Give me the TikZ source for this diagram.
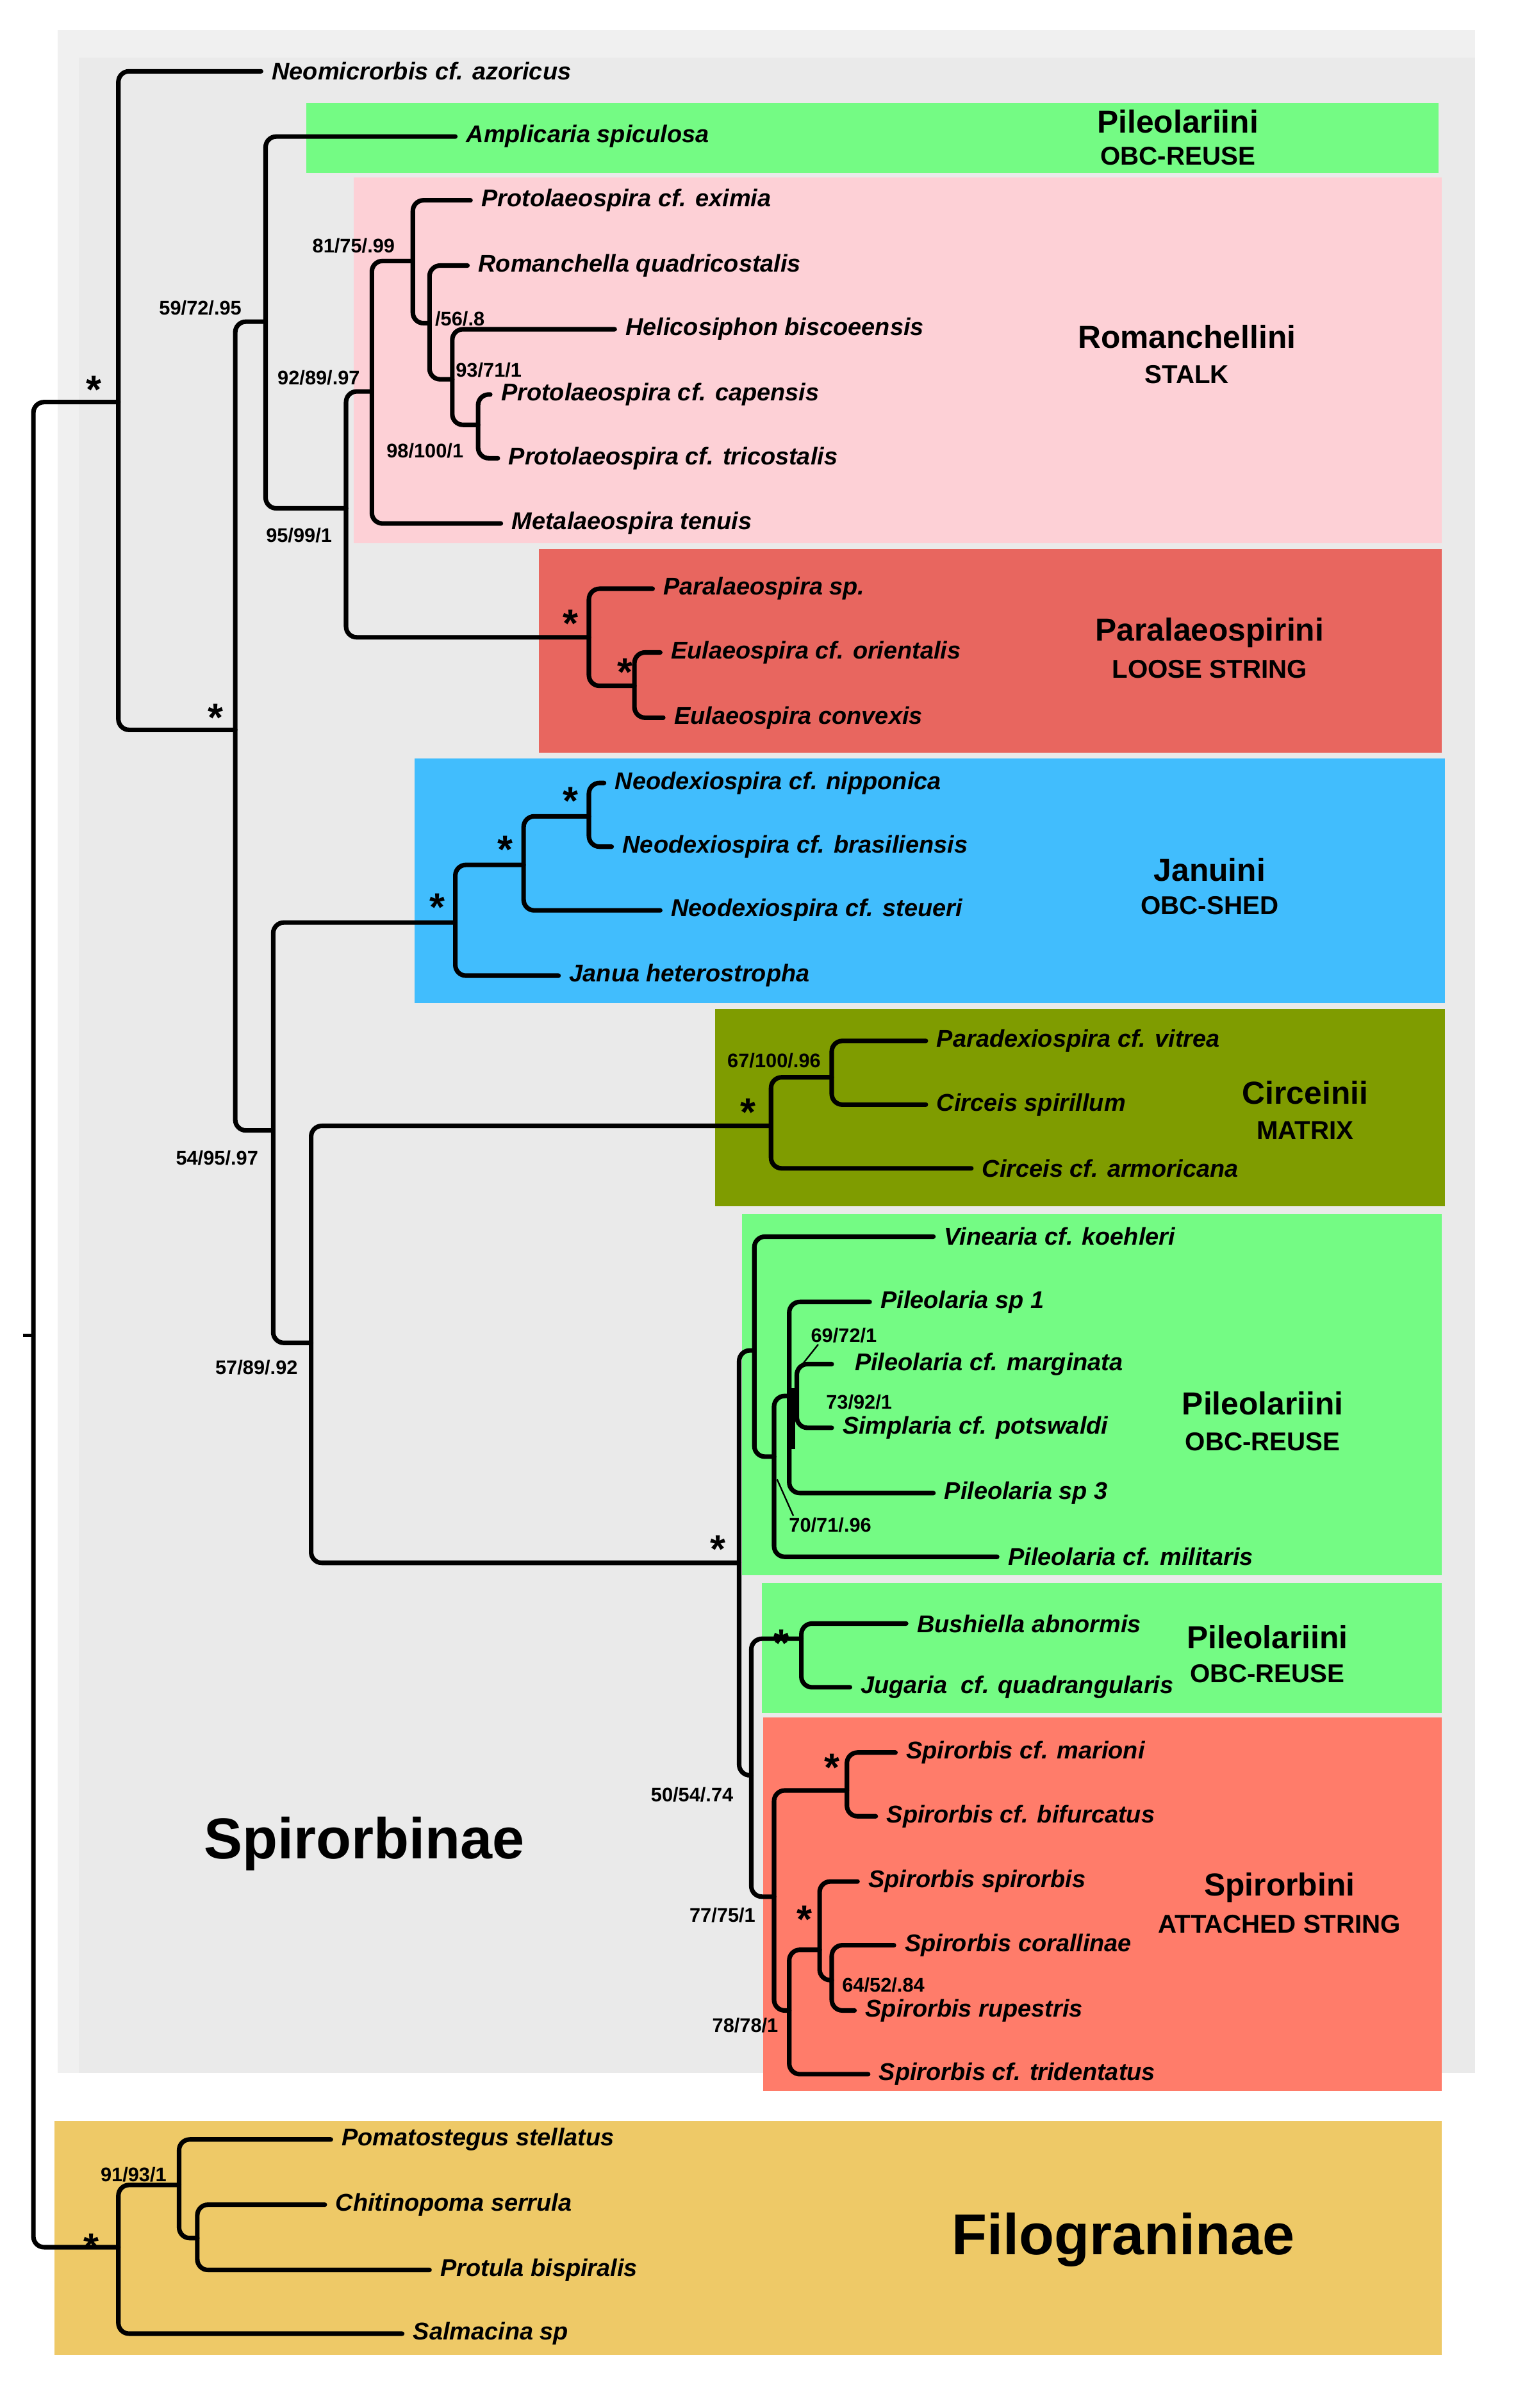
\documentclass[tikz,border=0pt]{standalone}
\usepackage{fontspec}
\setmainfont{Liberation Sans}
\begin{document}
\begin{tikzpicture}[x=1pt,y=-1pt,
 br/.style={line width=3pt,rounded corners=7pt,line cap=round},
 sp/.style={anchor=west,font=\fontsize{16}{16}\selectfont\bfseries\itshape,inner sep=1pt},
 sup/.style={font=\fontsize{13}{13}\selectfont\bfseries,inner sep=1pt},
 ast/.style={font=\fontsize{26}{26}\selectfont\bfseries,inner sep=0pt},
 ttl/.style={font=\fontsize{21}{21}\selectfont\bfseries,align=center,inner sep=0pt},
 sub/.style={font=\fontsize{17}{17}\selectfont\bfseries}]
\useasboundingbox (0,0) rectangle (1000,1587);
\fill[white] (0,0) rectangle (1000,1587);
\definecolor{gbg}{HTML}{EAEAEA}
\definecolor{grn}{HTML}{74FB84}
\definecolor{pnk}{HTML}{FDD0D6}
\definecolor{red1}{HTML}{E8665F}
\definecolor{blu}{HTML}{41BDFD}
\definecolor{olv}{HTML}{7F9C00}
\definecolor{sal}{HTML}{FF7C6A}
\definecolor{yel}{HTML}{EEC967}
\fill[gray!12] (38,20) rectangle (972,1366);
\fill[gbg] (52,38) rectangle (972,1366);
\fill[grn] (202,68) rectangle (948,114);
\fill[pnk] (233,117) rectangle (950,358);
\fill[red1] (355,362) rectangle (950,496);
\fill[blu] (273,500) rectangle (952,661);
\fill[olv] (471,665) rectangle (952,795);
\fill[grn] (489,800) rectangle (950,1038);
\fill[grn] (502,1043) rectangle (950,1129);
\fill[sal] (503,1132) rectangle (950,1378);
\fill[yel] (36,1398) rectangle (950,1552);
\newcommand\cl[5]{\draw[br] (#3,#2) -- (#1,#2) -- (#1,#4) -- (#5,#4);}
\newcommand\lf[3]{\node[sp] at (#1+6,#2) {#3};}
% root
\draw[br] (78,265) -- (22,265) -- (22,1481) -- (78,1481);
\draw[line width=2pt] (15,880) -- (22,880);
\cl{78}{47}{172}{481}{155}
\cl{155}{212}{175}{745}{180}
\cl{175}{90}{300}{335}{228}
\cl{228}{258}{245}{420}{388}
\cl{245}{172}{272}{345}{330}
\cl{272}{132}{310}{213}{283}
\cl{283}{175}{308}{250}{298}
\cl{298}{217}{405}{280}{315}
\cl{315}{260}{323}{302}{328}
\cl{388}{388}{430}{452}{418}
\cl{418}{430}{435}{473}{437}
\cl{180}{608}{300}{885}{205}
\cl{300}{570}{345}{643}{368}
\cl{345}{538}{388}{600}{435}
\cl{388}{516}{398}{558}{403}
\cl{205}{742}{508}{1030}{487}
\cl{508}{710}{548}{770}{640}
\cl{548}{686}{610}{728}{610}
\cl{487}{890}{497}{1170}{495}
\cl{497}{815}{615}{960}{510}
\cl{510}{920}{520}{1026}{657}
\cl{520}{858}{573}{984}{615}
\draw[line width=4pt] (522,915) -- (522,955);
\draw[br] (548,899) -- (525,899) -- (525,941) -- (548,941);
\cl{495}{1080}{528}{1250}{510}
\cl{528}{1070}{597}{1112}{560}
\cl{510}{1180}{558}{1325}{520}
\cl{558}{1155}{590}{1197}{577}
\cl{520}{1285}{540}{1367}{572}
\cl{540}{1240}{565}{1305}{548}
\cl{548}{1282}{589}{1325}{563}
\cl{78}{1440}{118}{1538}{265}
\cl{118}{1410}{218}{1475}{130}
\cl{130}{1453}{214}{1496}{283}
% leaves
\lf{172}{47}{Neomicrorbis cf. azoricus}
\lf{300}{90}{Amplicaria spiculosa}
\lf{310}{132}{Protolaeospira cf. eximia}
\lf{308}{175}{Romanchella quadricostalis}
\lf{405}{217}{Helicosiphon biscoeensis}
\lf{323}{260}{Protolaeospira cf. capensis}
\lf{328}{302}{Protolaeospira cf. tricostalis}
\lf{330}{345}{Metalaeospira tenuis}
\lf{430}{388}{Paralaeospira sp.}
\lf{435}{430}{Eulaeospira cf. orientalis}
\lf{437}{473}{Eulaeospira convexis}
\lf{398}{516}{Neodexiospira cf. nipponica}
\lf{403}{558}{Neodexiospira cf. brasiliensis}
\lf{435}{600}{Neodexiospira cf. steueri}
\lf{368}{643}{Janua heterostropha}
\lf{610}{686}{Paradexiospira cf. vitrea}
\lf{610}{728}{Circeis spirillum}
\lf{640}{770}{Circeis cf. armoricana}
\lf{615}{815}{Vinearia cf. koehleri}
\lf{573}{858}{Pileolaria sp 1}
\lf{556}{899}{Pileolaria cf. marginata}
\lf{548}{941}{Simplaria cf. potswaldi}
\lf{615}{984}{Pileolaria sp 3}
\lf{657}{1026}{Pileolaria cf. militaris}
\lf{597}{1070}{Bushiella abnormis}
\lf{560}{1112}{Jugaria\ \ cf. quadrangularis}
\lf{590}{1155}{Spirorbis cf. marioni}
\lf{577}{1197}{Spirorbis cf. bifurcatus}
\lf{565}{1240}{Spirorbis spirorbis}
\lf{589}{1282}{Spirorbis corallinae}
\lf{563}{1325}{Spirorbis rupestris}
\lf{572}{1367}{Spirorbis cf. tridentatus}
\lf{218}{1410}{Pomatostegus stellatus}
\lf{214}{1453}{Chitinopoma serrula}
\lf{283}{1496}{Protula bispiralis}
\lf{265}{1538}{Salmacina sp}
% support values
\node[sup] (s1) at (132,203) {59/72/.95};
\node[sup] (s2) at (233,162) {81/75/.99};
\node[sup] (s3) at (303,210) {/56/.8};
\node[sup] (s4) at (322,244) {93/71/1};
\node[sup] (s5) at (210,249) {92/89/.97};
\node[sup] (s6) at (280,297) {98/100/1};
\node[sup] (s7) at (197,353) {95/99/1};
\node[sup] (s8) at (143,763) {54/95/.97};
\node[sup] (s9) at (169,901) {57/89/.92};
\node[sup] (s10) at (510,699) {67/100/.96};
\node[sup] (s11) at (556,880) {69/72/1};
\node[sup] (s12) at (566,924) {73/92/1};
\node[sup] (s13) at (547,1005) {70/71/.96};
\node[sup] (s14) at (456,1183) {50/54/.74};
\node[sup] (s15) at (476,1262) {77/75/1};
\node[sup] (s16) at (491,1335) {78/78/1};
\node[sup] (s17) at (582,1308) {64/52/.84};
\node[sup] (s18) at (88,1433) {91/93/1};
\coordinate (c11) at (524,905);
\coordinate (c13) at (512,975);
\draw[line width=1pt] (s11.south west) ++(6,0) -- (c11);
\draw[line width=1pt] (s13.north west) ++(4,0) -- (c13);
% asterisks
\foreach \x/\y in {62/257,142/473,376/411,412/443,288/598,333/560,376/528,493/733,473/1021,515/1083,548/1165,530/1265,60/1481}
 \node[ast] at (\x,\y) {*};
% group labels
\node[ttl] (g1) at (776,80) {Pileolariini};
\node[sub] at (776,103) {OBC-REUSE};
\node[ttl] (g2) at (782,222) {Romanchellini};
\node[sub] at (782,247) {STALK};
\node[ttl] (g3) at (797,417) {Paralaeospirini};
\node[sub] at (797,441) {LOOSE STRING};
\node[ttl] (g4) at (797,573) {Januini};
\node[sub] at (797,597) {OBC-SHED};
\node[ttl] (g5) at (860,720) {Circeinii};
\node[sub] at (860,745) {MATRIX};
\node[ttl] (g6) at (832,925) {Pileolariini};
\node[sub] at (832,950) {OBC-REUSE};
\node[ttl] (g7) at (835,1079) {Pileolariini};
\node[sub] at (835,1103) {OBC-REUSE};
\node[ttl] (g8) at (843,1244) {Spirorbini};
\node[sub] at (843,1268) {ATTACHED STRING};
\node[font=\fontsize{38}{38}\selectfont\bfseries] (g9) at (240,1215) {Spirorbinae};
\node[font=\fontsize{38}{38}\selectfont\bfseries] (g10) at (740,1476) {Filograninae};
\end{tikzpicture}
\end{document}
